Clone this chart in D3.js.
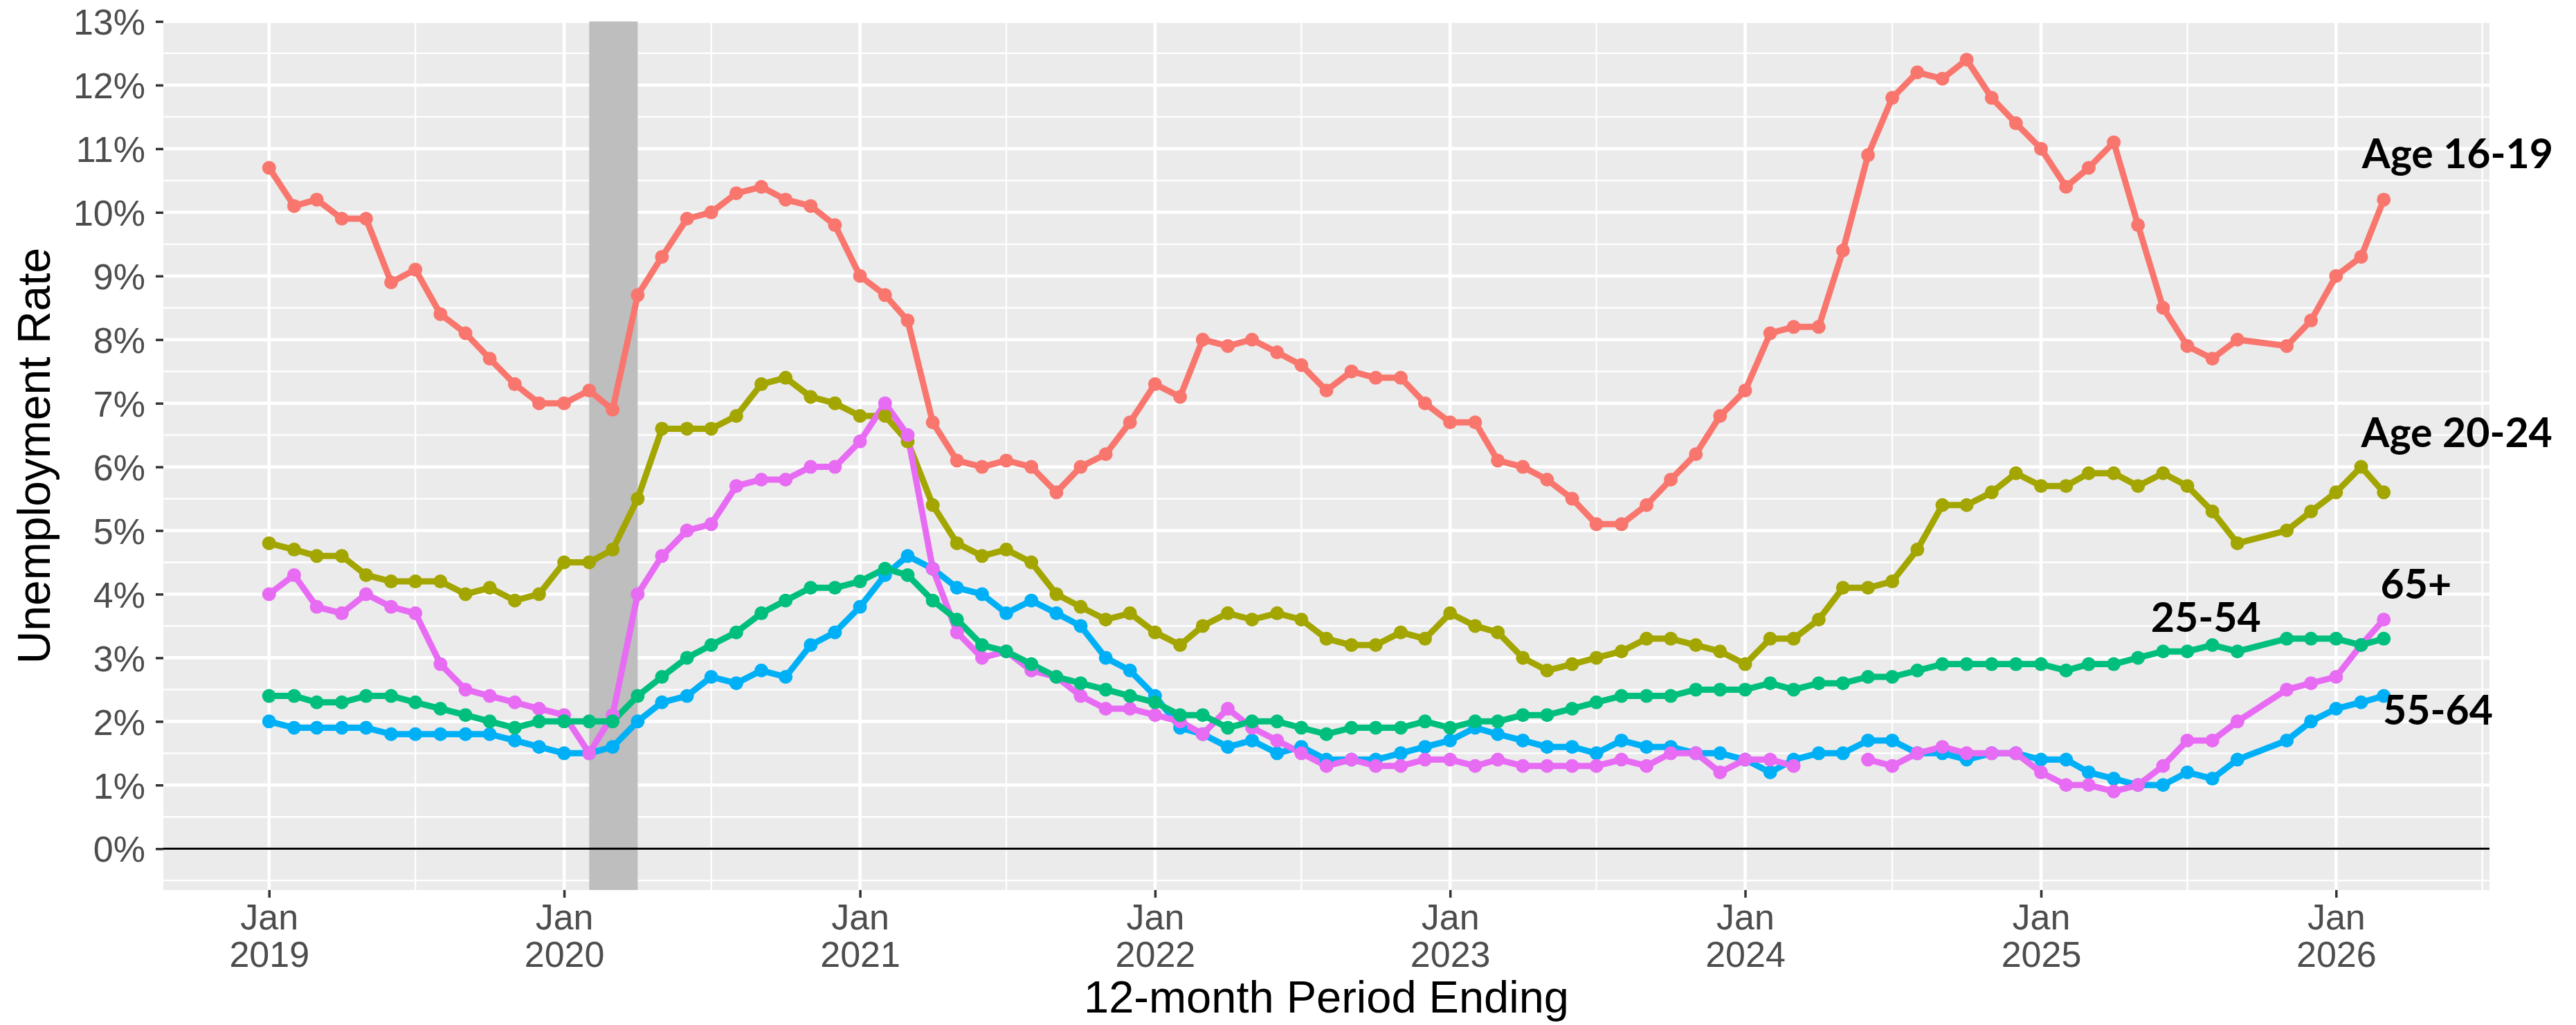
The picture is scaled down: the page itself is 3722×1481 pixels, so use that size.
<!DOCTYPE html>
<html>
<head>
<meta charset="utf-8">
<script src="https://cdn.jsdelivr.net/npm/d3@7"></script>
<style>
html,body{margin:0;padding:0;background:#ffffff;}
svg{display:block;}
</style>
</head>
<body>
<svg id="chart" width="3722" height="1481"></svg>
<script>
// ---------------- DATA ----------------
const months = [
  "2019-01","2019-02","2019-03","2019-04","2019-05","2019-06","2019-07","2019-08","2019-09","2019-10","2019-11","2019-12",
  "2020-01","2020-02","2020-03","2020-04","2020-05","2020-06","2020-07","2020-08","2020-09","2020-10","2020-11","2020-12",
  "2021-01","2021-02","2021-03","2021-04","2021-05","2021-06","2021-07","2021-08","2021-09","2021-10","2021-11","2021-12",
  "2022-01","2022-02","2022-03","2022-04","2022-05","2022-06","2022-07","2022-08","2022-09","2022-10","2022-11","2022-12",
  "2023-01","2023-02","2023-03","2023-04","2023-05","2023-06","2023-07","2023-08","2023-09","2023-10","2023-11","2023-12",
  "2024-01","2024-02","2024-03","2024-04","2024-05","2024-06","2024-07","2024-08","2024-09","2024-10","2024-11","2024-12",
  "2025-01","2025-02","2025-03","2025-04","2025-05","2025-06","2025-07","2025-08","2025-09","2025-11","2025-12",
  "2026-01","2026-02","2026-03"
];

const age16to19 = [
  10.7,10.1,10.2,9.9,9.9,8.9,9.1,8.4,8.1,7.7,7.3,7.0,
  7.0,7.2,6.9,8.7,9.3,9.9,10.0,10.3,10.4,10.2,10.1,9.8,
  9.0,8.7,8.3,6.7,6.1,6.0,6.1,6.0,5.6,6.0,6.2,6.7,
  7.3,7.1,8.0,7.9,8.0,7.8,7.6,7.2,7.5,7.4,7.4,7.0,
  6.7,6.7,6.1,6.0,5.8,5.5,5.1,5.1,5.4,5.8,6.2,6.8,
  7.2,8.1,8.2,8.2,9.4,10.9,11.8,12.2,12.1,12.4,11.8,11.4,
  11.0,10.4,10.7,11.1,9.8,8.5,7.9,7.7,8.0,7.9,8.3,
  9.0,9.3,10.2
];
const age20to24 = [
  4.8,4.7,4.6,4.6,4.3,4.2,4.2,4.2,4.0,4.1,3.9,4.0,
  4.5,4.5,4.7,5.5,6.6,6.6,6.6,6.8,7.3,7.4,7.1,7.0,
  6.8,6.8,6.4,5.4,4.8,4.6,4.7,4.5,4.0,3.8,3.6,3.7,
  3.4,3.2,3.5,3.7,3.6,3.7,3.6,3.3,3.2,3.2,3.4,3.3,
  3.7,3.5,3.4,3.0,2.8,2.9,3.0,3.1,3.3,3.3,3.2,3.1,
  2.9,3.3,3.3,3.6,4.1,4.1,4.2,4.7,5.4,5.4,5.6,5.9,
  5.7,5.7,5.9,5.9,5.7,5.9,5.7,5.3,4.8,5.0,5.3,
  5.6,6.0,5.6
];
const age25to54 = [
  2.4,2.4,2.3,2.3,2.4,2.4,2.3,2.2,2.1,2.0,1.9,2.0,
  2.0,2.0,2.0,2.4,2.7,3.0,3.2,3.4,3.7,3.9,4.1,4.1,
  4.2,4.4,4.3,3.9,3.6,3.2,3.1,2.9,2.7,2.6,2.5,2.4,
  2.3,2.1,2.1,1.9,2.0,2.0,1.9,1.8,1.9,1.9,1.9,2.0,
  1.9,2.0,2.0,2.1,2.1,2.2,2.3,2.4,2.4,2.4,2.5,2.5,
  2.5,2.6,2.5,2.6,2.6,2.7,2.7,2.8,2.9,2.9,2.9,2.9,
  2.9,2.8,2.9,2.9,3.0,3.1,3.1,3.2,3.1,3.3,3.3,
  3.3,3.2,3.3
];
const age55to64 = [
  2.0,1.9,1.9,1.9,1.9,1.8,1.8,1.8,1.8,1.8,1.7,1.6,
  1.5,1.5,1.6,2.0,2.3,2.4,2.7,2.6,2.8,2.7,3.2,3.4,
  3.8,4.3,4.6,4.4,4.1,4.0,3.7,3.9,3.7,3.5,3.0,2.8,
  2.4,1.9,1.8,1.6,1.7,1.5,1.6,1.4,1.4,1.4,1.5,1.6,
  1.7,1.9,1.8,1.7,1.6,1.6,1.5,1.7,1.6,1.6,1.5,1.5,
  1.4,1.2,1.4,1.5,1.5,1.7,1.7,1.5,1.5,1.4,1.5,1.5,
  1.4,1.4,1.2,1.1,1.0,1.0,1.2,1.1,1.4,1.7,2.0,
  2.2,2.3,2.4
];
const age65plus = [
  4.0,4.3,3.8,3.7,4.0,3.8,3.7,2.9,2.5,2.4,2.3,2.2,
  2.1,1.5,2.1,4.0,4.6,5.0,5.1,5.7,5.8,5.8,6.0,6.0,
  6.4,7.0,6.5,4.4,3.4,3.0,3.1,2.8,2.7,2.4,2.2,2.2,
  2.1,2.0,1.8,2.2,1.9,1.7,1.5,1.3,1.4,1.3,1.3,1.4,
  1.4,1.3,1.4,1.3,1.3,1.3,1.3,1.4,1.3,1.5,1.5,1.2,
  1.4,1.4,1.3,null,null,1.4,1.3,1.5,1.6,1.5,1.5,1.5,
  1.2,1.0,1.0,0.9,1.0,1.3,1.7,1.7,2.0,2.5,2.6,
  2.7,3.2,3.6
];

const seriesNames  = ["Age 16-19","Age 20-24","25-54","55-64","65+"];
const seriesColors = ["#F8766D","#A3A500","#00BF7D","#00B0F6","#E76BF3"];
const seriesValues = [age16to19, age20to24, age25to54, age55to64, age65plus];
const drawOrder    = [0, 1, 3, 4, 2];

const yTickValues = [0,1,2,3,4,5,6,7,8,9,10,11,12,13];
const yTickLabels = ["0%","1%","2%","3%","4%","5%","6%","7%","8%","9%","10%","11%","12%","13%"];
const xTickMonths = ["2019-01","2020-01","2021-01","2022-01","2023-01","2024-01","2025-01","2026-01"];
const xTickTop    = ["Jan","Jan","Jan","Jan","Jan","Jan","Jan","Jan"];
const xTickBottom = ["2019","2020","2021","2022","2023","2024","2025","2026"];
const xMinorMonths = ["2019-07","2020-07","2021-07","2022-07","2023-07","2024-07","2025-07","2026-07"];

const recessionStart = "2020-02";
const recessionEnd   = "2020-04";

const labelTexts  = ["Age 16-19","Age 20-24","25-54","55-64","65+"];
const labelDates  = ["2026-02-02","2026-02-01","2025-05-17","2026-02-28","2026-02-25"];
const labelValues = [10.69, 6.31, 3.41, 1.95, 3.93];

const yTitle = "Unemployment Rate";
const xTitle = "12-month Period Ending";

// ---------------- LAYOUT ----------------
const panel = {l: 236, r: 3597, t: 31, b: 1286};
const axisFont = "'Liberation Sans', Arial, Helvetica, sans-serif";
const labelFont = "Lato, 'Open Sans', 'Noto Sans', sans-serif";

const parseM = d3.timeParse("%Y-%m");
const parseD = d3.timeParse("%Y-%m-%d");
const dates = months.map(parseM);
const dMin = dates[0], dMax = dates[dates.length - 1];
const span = dMax - dMin;

const x = d3.scaleTime()
  .domain([new Date(+dMin - 0.05 * span), new Date(+dMax + 0.05 * span)])
  .range([panel.l, panel.r]);
const y = d3.scaleLinear().domain([-0.65, 13]).range([panel.b, panel.t]);

const svg = d3.select("#chart");
svg.append("rect").attr("width", 3722).attr("height", 1481).attr("fill", "#ffffff");

// panel background
svg.append("rect")
  .attr("x", panel.l).attr("y", panel.t)
  .attr("width", panel.r - panel.l).attr("height", panel.b - panel.t)
  .attr("fill", "#EBEBEB");

const grid = svg.append("g");
// minor y
grid.selectAll("line.ymin").data(d3.range(-0.5, 13, 1)).join("line")
  .attr("x1", panel.l).attr("x2", panel.r)
  .attr("y1", d => y(d)).attr("y2", d => y(d))
  .attr("stroke", "#ffffff").attr("stroke-width", 2.3);
// minor x
grid.selectAll("line.xmin").data(xMinorMonths.map(parseM).filter(d => x(d) <= panel.r)).join("line")
  .attr("y1", panel.t).attr("y2", panel.b)
  .attr("x1", d => x(d)).attr("x2", d => x(d))
  .attr("stroke", "#ffffff").attr("stroke-width", 2.3);
// major y
grid.selectAll("line.ymaj").data(yTickValues).join("line")
  .attr("x1", panel.l).attr("x2", panel.r)
  .attr("y1", d => y(d)).attr("y2", d => y(d))
  .attr("stroke", "#ffffff").attr("stroke-width", 4.6);
// major x
grid.selectAll("line.xmaj").data(xTickMonths.map(parseM)).join("line")
  .attr("y1", panel.t).attr("y2", panel.b)
  .attr("x1", d => x(d)).attr("x2", d => x(d))
  .attr("stroke", "#ffffff").attr("stroke-width", 4.6);

// recession shading
svg.append("rect")
  .attr("x", x(parseM(recessionStart)))
  .attr("width", x(parseM(recessionEnd)) - x(parseM(recessionStart)))
  .attr("y", panel.t).attr("height", panel.b - panel.t)
  .attr("fill", "#BEBEBE");

// zero line
svg.append("line")
  .attr("x1", panel.l).attr("x2", panel.r)
  .attr("y1", y(0)).attr("y2", y(0))
  .attr("stroke", "#000000").attr("stroke-width", 3);

// series lines
const lineGen = d3.line()
  .defined(d => d.v !== null && d.v !== undefined)
  .x(d => x(d.date)).y(d => y(d.v));

const seriesData = seriesValues.map(vals => vals.map((v, i) => ({date: dates[i], v: v})));

const linesG = svg.append("g");
drawOrder.forEach(si => {
  linesG.append("path")
    .datum(seriesData[si])
    .attr("d", lineGen)
    .attr("fill", "none")
    .attr("stroke", seriesColors[si])
    .attr("stroke-width", 9)
    .attr("stroke-linejoin", "round")
    .attr("stroke-linecap", "butt");
});
const pointsG = svg.append("g");
drawOrder.forEach(si => {
  pointsG.selectAll(null)
    .data(seriesData[si].filter(d => d.v !== null))
    .join("circle")
    .attr("cx", d => x(d.date)).attr("cy", d => y(d.v))
    .attr("r", 10)
    .attr("fill", seriesColors[si]);
});

// axes
const yAxis = d3.axisLeft(y)
  .tickValues(yTickValues)
  .tickFormat((d, i) => yTickLabels[i])
  .tickSize(11).tickPadding(15);
const gy = svg.append("g").attr("transform", `translate(${panel.l},0)`).call(yAxis);
gy.select(".domain").remove();
gy.selectAll(".tick line").attr("stroke", "#333333").attr("stroke-width", 3.5);
gy.selectAll(".tick text")
  .attr("fill", "#4D4D4D")
  .attr("font-family", axisFont)
  .attr("font-size", 52)
  .attr("dy", "0.36em");

const xTickDates = xTickMonths.map(parseM);
const xAxis = d3.axisBottom(x)
  .tickValues(xTickDates)
  .tickFormat((d, i) => xTickTop[i])
  .tickSize(11).tickPadding(10);
const gx = svg.append("g").attr("transform", `translate(0,${panel.b})`).call(xAxis);
gx.select(".domain").remove();
gx.selectAll(".tick line").attr("stroke", "#333333").attr("stroke-width", 3.5);
gx.selectAll(".tick text").each(function(d, i) {
  const t = d3.select(this);
  t.text(null).attr("dy", null).attr("y", null)
    .attr("fill", "#4D4D4D")
    .attr("font-family", axisFont)
    .attr("font-size", 52)
    .attr("text-anchor", "middle");
  t.append("tspan").attr("x", 0).attr("y", 57).text(xTickTop[i]);
  t.append("tspan").attr("x", 0).attr("y", 111).text(xTickBottom[i]);
});

// axis titles
svg.append("text")
  .attr("x", (panel.l + panel.r) / 2).attr("y", 1463)
  .attr("text-anchor", "middle")
  .attr("font-family", axisFont).attr("font-size", 65)
  .attr("fill", "#000000")
  .text(xTitle);
svg.append("text")
  .attr("transform", `translate(72,${(panel.t + panel.b) / 2}) rotate(-90)`)
  .attr("text-anchor", "middle")
  .attr("font-family", axisFont).attr("font-size", 66)
  .attr("fill", "#000000")
  .text(yTitle);

// series labels
svg.append("g").selectAll("text")
  .data(labelTexts)
  .join("text")
  .attr("x", (d, i) => x(parseD(labelDates[i])))
  .attr("y", (d, i) => y(labelValues[i]))
  .attr("font-family", labelFont)
  .attr("font-weight", 700)
  .attr("font-size", 59)
  .attr("fill", "#000000")
  .text(d => d);
</script>
</body>
</html>
